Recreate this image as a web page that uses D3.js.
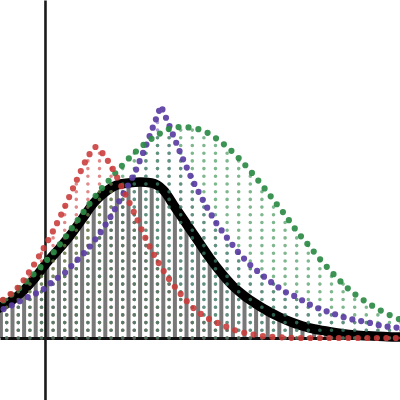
<!DOCTYPE html>
<html><head><meta charset="utf-8">
<script src="https://cdn.jsdelivr.net/npm/d3@7"></script>
<style>html,body{margin:0;padding:0;background:#fff;overflow:hidden}</style>
</head><body><svg id="c" width="400" height="400"></svg>
<script>
// sample columns (x positions of the dotted drop lines)
const columns = [-1,0,1,2,3,4,5,6,7,8,9,10,11,12,13,14,15,16,17,18,19,20,21,22,23,24,25,26,27,28,29,30,31,32,33,34];
const redValues    = [33,41,51,67,86,107,131,157,181,188,172,149,125,99,77,59,44,31,22,16,11,6.5,4,2,1,0.5,0,0,0,0,0,0,0,0,0,0];
const greenValues  = [32,40,49,60,72,85,100,116,132,147,160,173,185,195,203,209,211,210,207,200,191,180,167,153,138,123,107,93,79,66,54,44,36,29,23,18];
const purpleValues = [26,30,36,42,47,57,65,77,89,104,122,143,164,192,223,213,184,158,136,116,100,85,73,63,54,46,41,34,29,25,21,18,16,13,11,10];
// peaks that fall between columns
const redPeak = [7.66, 191];
const purplePeak = [13.3, 232];
// black (aggregate) curve sampled at the gray bar positions
const blackX = [-1.5,-0.5,0.5,1.5,2.5,3.5,4.5,5.5,6.5,7.5,8.5,9.5,10.5,11.5,12.5,13.5,14.5,15.5,16.5,17.5,18.5,19.5,20.5,21.5,22.5,23.5,24.5,25.5,26.5,27.5,28.5,29.5,30.5,31.5,32.5,33.5,34.5];
const blackValues = [25,31,38,48,61,76,89,103,119,135,146,153,155,156,155,148,131,114,97,80,65,52,42,34,27,21,16,12,9,7,5,3.5,2.5,2,1.5,1,1];
const axisX = 3.3;

const svg = d3.select("#c");
const x = d3.scaleLinear().domain([0,33]).range([6.7,389.5]);
const y = d3.scaleLinear().domain([0,300]).range([338,38]);

const pts = (xs, vs) => xs.map((c,i)=>({x:c, v:vs[i]}));
const withPeak = (arr, pk) => arr.concat([{x:pk[0], v:pk[1]}]).sort((a,b)=>a.x-b.x);

const redPts = withPeak(pts(columns, redValues), redPeak);
const greenPts = pts(columns, greenValues);
const purplePts = withPeak(pts(columns, purpleValues), purplePeak);
const blackPts = pts(blackX, blackValues);

// gray bars under black curve
svg.append("g").selectAll("rect").data(blackPts).join("rect")
  .attr("x", d=>x(d.x)-2).attr("width", 4)
  .attr("y", d=>y(d.v)).attr("height", d=>y(0)-y(d.v))
  .attr("fill", "#787878");

// axes (no ticks)
const xFull = d3.scaleLinear().domain([x.invert(0), x.invert(400)]).range([0,400]);
const yFull = d3.scaleLinear().domain([y.invert(400), y.invert(0)]).range([400,0]);
const gx = svg.append("g").attr("transform", `translate(0,${y(0)})`)
  .call(d3.axisBottom(xFull).tickValues([]).tickSizeOuter(0));
gx.select(".domain").attr("stroke", "#111").attr("stroke-width", 3);
const gy = svg.append("g").attr("transform", `translate(${x(axisX)},0)`)
  .call(d3.axisLeft(yFull).tickValues([]).tickSizeOuter(0));
gy.select(".domain").attr("stroke", "#1a1a1a").attr("stroke-width", 2.6);

// black curve
svg.append("path").datum(blackPts)
  .attr("d", d3.line().x(d=>x(d.x)).y(d=>y(d.v)).curve(d3.curveMonotoneX))
  .attr("fill","none").attr("stroke","#000").attr("stroke-width",9.5)
  .attr("stroke-linejoin","round").attr("stroke-linecap","round");

// dotted drop lines
function drops(vals, color, op){
  svg.append("g").selectAll("path").data(pts(columns, vals)).join("path")
    .attr("d", d=>`M${x(d.x)},${y(0)}L${x(d.x)},${y(d.v)}`)
    .attr("stroke", color).attr("stroke-opacity", op)
    .attr("stroke-width", 3.6).attr("stroke-linecap","round")
    .attr("stroke-dasharray","0 7.7").attr("fill","none");
}
drops(redValues, "#c93c3a", 0.6);
drops(purpleValues, "#5b3ea4", 0.5);
drops(greenValues, "#2e8b47", 0.62);

// dotted curves
function curve(data, color, op, cv, gap){
  svg.append("path").datum(data)
    .attr("d", d3.line().x(d=>x(d.x)).y(d=>y(d.v)).curve(cv))
    .attr("fill","none").attr("stroke",color).attr("stroke-opacity",op)
    .attr("stroke-width",6.2).attr("stroke-linecap","round")
    .attr("stroke-dasharray",`0 ${gap}`);
}
curve(purplePts, "#5a3da3", 0.92, d3.curveLinear, 9);
curve(greenPts, "#2d8a45", 0.92, d3.curveMonotoneX, 10);
curve(redPts, "#c83a38", 0.88, d3.curveMonotoneX, 9.5);
</script></body></html>
